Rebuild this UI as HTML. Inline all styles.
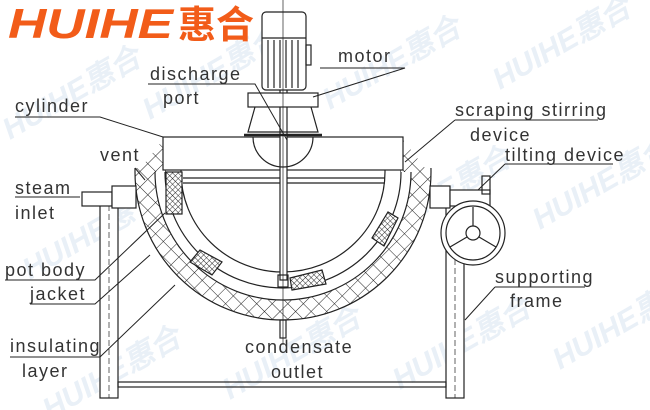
<!DOCTYPE html>
<html><head><meta charset="utf-8"><style>
html,body{margin:0;padding:0;background:#fff}
svg{display:block}
.t{font-family:"Liberation Sans",sans-serif;font-size:18px;fill:#333;letter-spacing:1.5px}
</style></head><body>
<svg width="650" height="410" viewBox="0 0 650 410" xmlns="http://www.w3.org/2000/svg">
<defs>
<pattern id="h" width="11" height="11" patternUnits="userSpaceOnUse" patternTransform="rotate(45)">
<rect width="11" height="11" fill="#fff"/><path d="M0 0H11M0 0V11" stroke="#222" stroke-width="1"/></pattern>
<pattern id="h2" width="4" height="4" patternUnits="userSpaceOnUse" patternTransform="rotate(45)">
<rect width="4" height="4" fill="#fff"/><path d="M0 0H4M0 0V4" stroke="#222" stroke-width="0.9"/></pattern>
<clipPath id="below"><rect x="0" y="168" width="650" height="250"/></clipPath>
</defs>
<!-- watermarks -->
<g fill="#d3e0ee" opacity="0.5" font-family="Liberation Sans,sans-serif" font-weight="bold" font-style="italic" font-size="30">
<text transform="translate(10,140) rotate(-30)">HUIHE惠合</text>
<text transform="translate(150,120) rotate(-30)">HUIHE惠合</text>
<text transform="translate(330,110) rotate(-30)">HUIHE惠合</text>
<text transform="translate(500,90) rotate(-30)">HUIHE惠合</text>
<text transform="translate(30,280) rotate(-30)">HUIHE惠合</text>
<text transform="translate(200,260) rotate(-30)">HUIHE惠合</text>
<text transform="translate(380,240) rotate(-30)">HUIHE惠合</text>
<text transform="translate(540,230) rotate(-30)">HUIHE惠合</text>
<text transform="translate(50,420) rotate(-30)">HUIHE惠合</text>
<text transform="translate(230,400) rotate(-30)">HUIHE惠合</text>
<text transform="translate(400,390) rotate(-30)">HUIHE惠合</text>
<text transform="translate(560,370) rotate(-30)">HUIHE惠合</text>
</g>
<!-- logo -->
<text x="8" y="38" font-family="Liberation Sans,sans-serif" font-weight="bold" font-style="italic" font-size="42" fill="#f25c19" textLength="165" lengthAdjust="spacingAndGlyphs">HUIHE</text>
<text x="178" y="38" font-family="'Noto Sans CJK SC',sans-serif" font-weight="bold" font-size="38" fill="#f25c19">惠合</text>
<g stroke="#222" fill="none" stroke-width="1.2">
<!-- legs -->
<rect x="100" y="205" width="18" height="193" fill="#fff"/>
<rect x="446" y="205" width="18" height="193" fill="#fff"/>
<line x1="109" y1="205" x2="109" y2="398" stroke-dasharray="6 3" stroke-width="0.7"/>
<line x1="455" y1="205" x2="455" y2="398" stroke-dasharray="6 3" stroke-width="0.7"/>
<rect x="118" y="382" width="328" height="5"/>
<!-- jacket/insulation -->
<g clip-path="url(#below)">
<ellipse cx="283" cy="172" rx="148" ry="148" fill="url(#h)"/>
<ellipse cx="283" cy="172" rx="128" ry="128" fill="#fff"/>
<ellipse cx="283" cy="172" rx="118" ry="116" fill="#fff"/>
<ellipse cx="283" cy="172" rx="102" ry="100"/>
</g>
<path d="M138 172 L165 137 L165 172 Z M428 172 L401 137 L401 172 Z" fill="url(#h)" stroke="none"/>
<!-- hatched scraper blocks -->
<rect x="166" y="172" width="16" height="42" fill="url(#h2)"/>
<path d="M200 250 L222 262 L212 275 L190 262Z" fill="url(#h2)"/>
<path d="M290 278 L322 270 L326 284 L292 290Z" fill="url(#h2)"/>
<path d="M372 238 L388 212 L398 218 L384 246Z" fill="url(#h2)"/>
<!-- cylinder -->
<rect x="163" y="137" width="240" height="33" fill="#fff"/>
<line x1="183" y1="178" x2="385" y2="178"/>
<line x1="183" y1="183" x2="385" y2="183"/>
<!-- shaft -->
<rect x="280" y="80" width="7" height="200" fill="#fff"/>
<rect x="278" y="275" width="10" height="12"/>
<rect x="280" y="320" width="6" height="18"/>
<path d="M253 137 A30 30 0 0 0 313 137"/>
<!-- motor -->
<rect x="262" y="12" width="44" height="78" rx="4" fill="#fff"/>
<path d="M268 40V88M274 40V88M280 40V88M286 40V88M292 40V88M298 40V88"/>
<line x1="262" y1="38" x2="306" y2="38"/>
<rect x="306" y="45" width="5" height="20"/>
<rect x="248" y="93" width="70" height="14" fill="#fff"/>
<path d="M255 107 L248 132 H318 L311 107"/>
<line x1="244" y1="135" x2="322" y2="135" stroke-width="2.5"/>
<line x1="283" y1="0" x2="283" y2="345" stroke-width="0.7"/>
<!-- side pivots -->
<rect x="82" y="192" width="30" height="14" fill="#fff"/>
<rect x="112" y="186" width="24" height="22" fill="#fff"/>
<rect x="430" y="186" width="20" height="22" fill="#fff"/>
<rect x="450" y="190" width="40" height="16" fill="#fff"/>
<rect x="482" y="176" width="8" height="18"/>
<!-- handwheel -->
<circle cx="473" cy="233" r="32" fill="#fff"/>
<circle cx="473" cy="233" r="27"/>
<circle cx="473" cy="233" r="7"/>
<path d="M473 226V207M467 237L450 247M479 237L496 247"/>
<!-- leaders -->
<path d="M15 117H100L163 137" stroke-width="1"/>
<path d="M148 84H255L287 140" stroke-width="1"/>
<path d="M320 68H405L313 97" stroke-width="1"/>
<path d="M455 120H598M455 120L405 162" stroke-width="1"/>
<path d="M505 164H613M505 164L478 190" stroke-width="1"/>
<path d="M495 287H585M495 287L465 320" stroke-width="1"/>
<path d="M135 168L145 180" stroke-width="1"/>
<path d="M15 197H80" stroke-width="1"/>
<path d="M5 280H95L165 213" stroke-width="1"/>
<path d="M30 304H95L150 255" stroke-width="1"/>
<path d="M10 357H100L175 285" stroke-width="1"/>
</g>
<text class="t" x="338" y="62">motor</text>
<text class="t" x="150" y="80">discharge</text>
<text class="t" x="163" y="104">port</text>
<text class="t" x="15" y="112">cylinder</text>
<text class="t" x="100" y="161">vent</text>
<text class="t" x="15" y="194">steam</text>
<text class="t" x="15" y="219">inlet</text>
<text class="t" x="5" y="276">pot body</text>
<text class="t" x="30" y="300">jacket</text>
<text class="t" x="10" y="352">insulating</text>
<text class="t" x="22" y="377">layer</text>
<text class="t" x="245" y="353">condensate</text>
<text class="t" x="271" y="378">outlet</text>
<text class="t" x="455" y="116">scraping stirring</text>
<text class="t" x="470" y="141">device</text>
<text class="t" x="505" y="161">tilting device</text>
<text class="t" x="495" y="283">supporting</text>
<text class="t" x="510" y="307">frame</text>
</svg>
</body></html>
